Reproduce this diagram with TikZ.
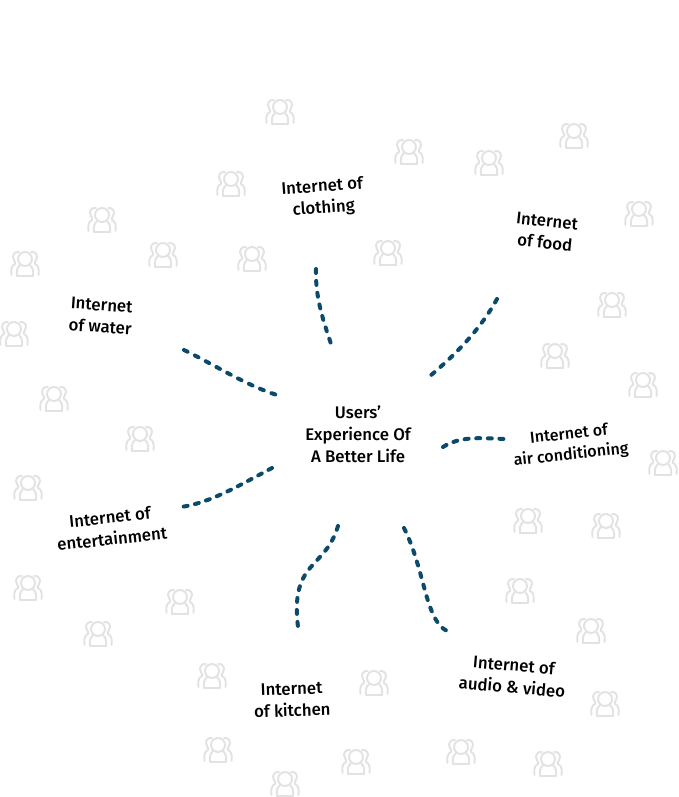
\documentclass[tikz,border=0pt]{standalone}
\usepackage{fontspec}
\setmainfont{Fira Sans}[BoldFont={Fira Sans Medium}]
\tikzset{
  x=1pt,y=-1pt,
  flow/.style={draw=linkblue,line width=4pt,line cap=round,dash pattern=on 4pt off 7.6pt},
  lab/.style={font=\fontsize{16.8}{21.8}\selectfont\bfseries,align=center,text=black,inner sep=0pt},
  peopleicon/.pic={
    \begin{scope}[draw=icongray,line width=1.9pt,line cap=round,line join=round]
      \draw (0,-5) circle[radius=7];
      \draw (-8,12) .. controls (-9,6) and (-7,3) .. (-5,1);
      \draw (8,12) .. controls (9,6) and (7,3) .. (5,1);
      \draw (-8,12) -- (8,12);
      \draw (-6,-12) .. controls (-11,-13) and (-13.5,-8) .. (-11,-4) .. controls (-10,-2) and (-9,-1) .. (-10,0) .. controls (-13,1) and (-14.5,5) .. (-13.5,11);
      \draw (6,-12) .. controls (11,-13) and (13.5,-8) .. (11,-4) .. controls (10,-2) and (9,-1) .. (10,0) .. controls (13,1) and (14.5,5) .. (13.5,11);
    \end{scope}
  }
}
\definecolor{linkblue}{HTML}{0B4A6B}
\definecolor{icongray}{HTML}{E2E2E2}
\begin{document}
\begin{tikzpicture}
\useasboundingbox[fill=white] (0,0) rectangle (678,797);
\foreach \px/\py in {280/112,409/152,489/163,574/136,639/214,612/305,555/356,643/385,663/463,606/526,528/521,520/591,591/631,605/704,548/764,461/752,356/762,285/784,218/750,374/683,212/676,98/634,180/602,28/588,28/488,140/439,54/399,14/334,25/264,102/220,163/255,231/184,252/259,388/253}
  \pic at (\px,\py) {peopleicon};
\node[lab] (center) at (358,434) {Users’\\Experience Of\\A Better Life};
\node[lab,rotate=4] (clothing) at (323,198) {Internet of\\clothing};
\node[lab,rotate=-6] (food) at (546,232) {Internet\\of food};
\node[lab,rotate=-4] (water) at (101,316) {Internet\\of water};
\node[lab,rotate=6,font=\fontsize{16}{20.5}\selectfont\bfseries] (air) at (570,445) {Internet of\\air conditioning};
\node[lab,rotate=6] (ent) at (111,528) {Internet of\\entertainment};
\node[lab,rotate=2] (kitchen) at (292,700) {Internet\\of kitchen};
\node[lab,rotate=-5] (audio) at (513,676) {Internet of\\audio \& video};
\coordinate (a1) at (316,269); \coordinate (a2) at (332,347);
\coordinate (b1) at (497,299); \coordinate (b2) at (430,376);
\coordinate (c1) at (443,447); \coordinate (c2) at (505,439);
\coordinate (d1) at (184,350); \coordinate (d2) at (277,395);
\coordinate (e1) at (272,468); \coordinate (e2) at (181,507);
\coordinate (f1) at (338,526); \coordinate (f2) at (298,627);
\coordinate (g1) at (404,528); \coordinate (g2) at (447,631);
\draw[flow,dash pattern=on 4pt off 7.9pt] (a1) .. controls (315,300) and (325,325) .. (a2);
\draw[flow,dash pattern=on 4pt off 8.1pt] (b1) .. controls (480,330) and (455,355) .. (b2);
\draw[flow] (c1) .. controls (460,436) and (480,438) .. (c2);
\draw[flow,dash pattern=on 4pt off 8.2pt] (d1) .. controls (215,365) and (245,385) .. (d2);
\draw[flow] (e1) .. controls (240,485) and (210,503) .. (e2);
\draw[flow,dash pattern=on 4pt off 8pt] (f1) .. controls (325,570) and (290,560) .. (f2);
\draw[flow,dash pattern=on 4pt off 8pt] (g1) .. controls (425,570) and (425,620) .. (g2);
\end{tikzpicture}
\end{document}
